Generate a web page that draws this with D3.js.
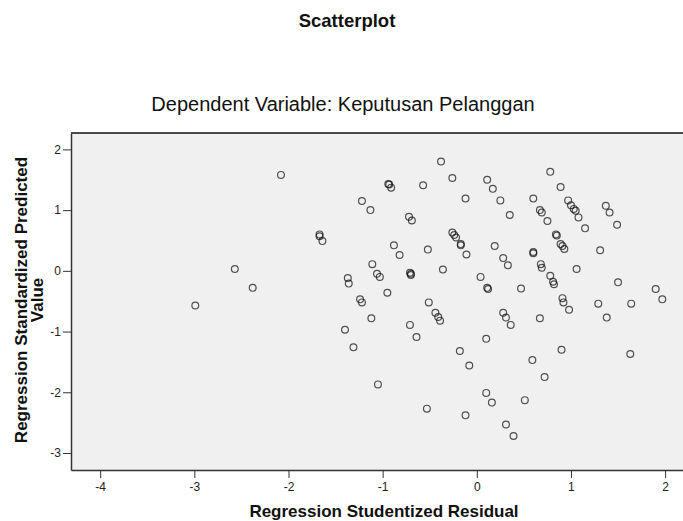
<!DOCTYPE html>
<html>
<head>
<meta charset="utf-8">
<style>
    body { margin: 0; background: #fff; }
    svg { display: block; font-family: "Liberation Sans", Arial, sans-serif; }
    .axis path, .axis line { stroke: #333; }
    .axis path { stroke-width: 1.5; }
    .axis text { fill: #222; font-size: 12px; font-family: "Liberation Sans", Arial, sans-serif; }
    .dot { fill: none; stroke: #111; stroke-opacity: 0.72; stroke-width: 1.2; }
</style>
</head>
<body>
<svg width="683" height="521"></svg>
<script src="https://cdn.jsdelivr.net/npm/d3@7"></script>
<script>

// studentized residual (x) and standardized predicted value (y)
var residual = [
  -2.99, -2.57, -2.38, -2.08, -1.67, -1.67, -1.64, -0.38, -0.26, 0.11,
  -0.94, -0.93, -0.91, -0.57, -0.12, -1.22, -1.13, -0.72, -0.69, -0.26,
  -0.24, -0.22, -0.17, -0.17, -0.11, -0.52, -0.88, -0.82, -0.36, -1.11,
  -1.06, -1.03, -0.71, -0.70, -0.70, -1.37, -1.36, 0.04, 0.11, 0.12,
  -0.95, -1.24, -1.22, -0.51, -0.44, -0.41, -0.39, -1.12, -1.40, -0.71,
  -0.64, -1.31, 0.10, -0.18, -0.08, -1.05, 0.10, 0.16, -0.53, -0.12,
  0.17, 0.25, 0.35, 0.78, 0.89, 0.60, 0.97, 1.00, 1.03, 1.05,
  1.08, 1.15, 0.67, 0.69, 0.75, 0.84, 0.85, 0.89, 0.91, 0.93,
  0.19, 0.28, 0.33, 0.60, 0.60, 0.68, 0.69, 1.06, 0.78, 0.81,
  0.82, 0.47, 0.91, 0.92, 0.98, 0.28, 0.31, 0.36, 0.67, 1.37,
  1.41, 1.49, 1.31, 1.50, 1.90, 1.97, 1.29, 1.64, 1.38, 0.90,
  0.59, 1.63, 0.72, 0.51, 0.31, 0.39
];
var predicted = [
  -0.57, 0.03, -0.28, 1.58, 0.60, 0.57, 0.49, 1.80, 1.53, 1.50,
  1.43, 1.42, 1.37, 1.41, 1.19, 1.15, 1.00, 0.89, 0.83, 0.63,
  0.59, 0.55, 0.44, 0.42, 0.27, 0.35, 0.42, 0.26, 0.02, 0.11,
  -0.05, -0.10, -0.03, -0.05, -0.07, -0.12, -0.21, -0.10, -0.28, -0.30,
  -0.36, -0.47, -0.52, -0.52, -0.69, -0.76, -0.82, -0.78, -0.97, -0.89,
  -1.09, -1.26, -1.12, -1.32, -1.56, -1.87, -2.01, -2.17, -2.27, -2.38,
  1.35, 1.16, 0.92, 1.63, 1.38, 1.19, 1.16, 1.08, 1.02, 0.99,
  0.88, 0.70, 1.00, 0.96, 0.82, 0.60, 0.58, 0.44, 0.41, 0.36,
  0.41, 0.21, 0.09, 0.31, 0.29, 0.11, 0.05, 0.03, -0.08, -0.18,
  -0.22, -0.29, -0.45, -0.52, -0.64, -0.69, -0.77, -0.89, -0.78, 1.07,
  0.96, 0.76, 0.34, -0.19, -0.30, -0.47, -0.54, -0.54, -0.77, -1.30,
  -1.47, -1.37, -1.75, -2.13, -2.53, -2.72
];
var xTicks = [-4, -3, -2, -1, 0, 1, 2];
var yTicks = [-3, -2, -1, 0, 1, 2];

var svg = d3.select("svg"),
    plot = {left: 71, right: 683, top: 133, bottom: 470};

var x = d3.scaleLinear()
    .domain([-4.31, 2.19])
    .range([plot.left, plot.right]);

var y = d3.scaleLinear()
    .domain([-3.28, 2.27])
    .range([plot.bottom, plot.top]);

// plain hyphen minus, no decimals, as in the original output
var fmt = function(d) { return String(d); };

svg.append("text")
    .attr("x", 347)
    .attr("y", 27)
    .attr("text-anchor", "middle")
    .attr("font-size", "18.5px")
    .attr("font-weight", "bold")
    .attr("fill", "#111")
    .text("Scatterplot");

svg.append("text")
    .attr("x", 343)
    .attr("y", 111)
    .attr("text-anchor", "middle")
    .attr("font-size", "20px")
    .attr("fill", "#111")
    .text("Dependent Variable: Keputusan Pelanggan");

// plot background + top border
svg.append("rect")
    .attr("x", plot.left)
    .attr("y", plot.top)
    .attr("width", plot.right - plot.left)
    .attr("height", plot.bottom - plot.top)
    .attr("fill", "#f0f0f0");

svg.append("line")
    .attr("x1", plot.left)
    .attr("x2", plot.right)
    .attr("y1", plot.top)
    .attr("y2", plot.top)
    .attr("stroke", "#111")
    .attr("stroke-width", 1.5);

var data = residual.map(function(d, i) { return {x: d, y: predicted[i]}; });

svg.append("g")
  .selectAll("circle")
  .data(data)
  .enter().append("circle")
    .attr("class", "dot")
    .attr("cx", function(d) { return x(d.x); })
    .attr("cy", function(d) { return y(d.y); })
    .attr("r", 3.4);

svg.append("g")
    .attr("class", "axis")
    .attr("transform", "translate(0," + plot.bottom + ")")
    .call(d3.axisBottom(x).tickValues(xTicks).tickFormat(fmt).tickSize(8).tickSizeOuter(0).tickPadding(4));

svg.append("g")
    .attr("class", "axis")
    .attr("transform", "translate(" + plot.left + ",0)")
    .call(d3.axisLeft(y).tickValues(yTicks).tickFormat(fmt).tickSize(8).tickSizeOuter(0).tickPadding(2));

svg.append("text")
    .attr("x", 384)
    .attr("y", 517)
    .attr("text-anchor", "middle")
    .attr("font-size", "17px")
    .attr("font-weight", "bold")
    .attr("fill", "#111")
    .text("Regression Studentized Residual");

var ylab = svg.append("text")
    .attr("transform", "translate(0,300) rotate(-90)")
    .attr("text-anchor", "middle")
    .attr("font-size", "17px")
    .attr("font-weight", "bold")
    .attr("fill", "#111");

ylab.append("tspan").attr("x", 0).attr("y", 27).text("Regression Standardized Predicted");
ylab.append("tspan").attr("x", 0).attr("y", 43).text("Value");

</script>
</body>
</html>
